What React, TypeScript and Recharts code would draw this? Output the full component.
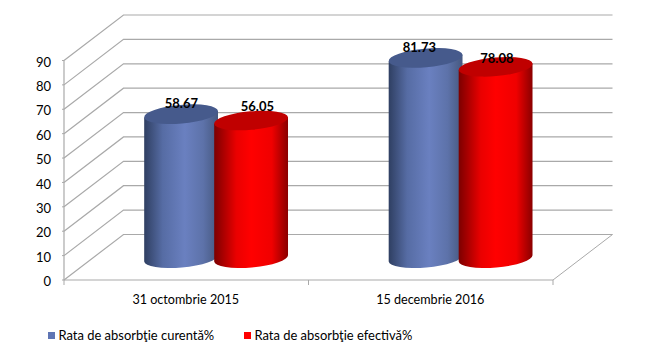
import React from 'react'
import { BarChart, Bar, XAxis, YAxis, CartesianGrid, Legend, LabelList } from 'recharts'

const categories = ['31 octombrie 2015', '15 decembrie 2016']
const curenta = [58.67, 81.73]
const efectiva = [56.05, 78.08]
const yTicks = [0, 10, 20, 30, 40, 50, 60, 70, 80, 90]
const seriesNames = ['Rata de absorbţie curentă%', 'Rata de absorbţie efectivă%']
const legendColors = ['#5f75b4', '#ff0000']

const data = categories.map((name, i) => ({ name, curenta: curenta[i], efectiva: efectiva[i] }))

const FONT = 'Lato, "Open Sans", sans-serif'
const GRID = '#a9a9a9'
// 3d box depth, the back wall sits this far from the front plane
const DEPTH_X = 59.5
const DEPTH_Y = 45.5
const BAND = 244.5
const TILT = 5
const RY = 9.3

// excel puts the data labels a bit off centre, by hand per series/category
const labelNudge = [
  [0, -11],
  [-6.5, -11],
]
const labelNudge2 = [
  [6, -14.5],
  [1, -9],
]

const Cylinder = (props: any) => {
  const { x, y, width, height, gradient, cap } = props
  const rx = width / 2 + 0.4
  const cx = x + width / 2 + DEPTH_X / 2 - 0.3
  const top = y - DEPTH_Y / 2
  const bottom = y + height - DEPTH_Y / 2 + 1
  const rad = (TILT * Math.PI) / 180
  const ex = rx * Math.cos(rad)
  const ey = rx * Math.sin(rad)
  const body = `M${cx - ex} ${top + ey} L${cx - ex} ${bottom + ey} A${rx} ${RY} ${-TILT} 0 0 ${cx + ex} ${bottom - ey} L${cx + ex} ${top - ey} Z`
  return (
    <g>
      <path d={body} fill={`url(#${gradient})`} />
      <ellipse cx={cx} cy={top} rx={rx} ry={RY} fill={cap} transform={`rotate(${-TILT} ${cx} ${top})`} />
    </g>
  )
}

const makeLabel = (nudge: number[][]) => (props: any) => {
  const { x, y, width, value, index } = props
  const [dx, dy] = nudge[index]
  return (
    <text
      x={x + width / 2 + DEPTH_X / 2 + dx}
      y={y - DEPTH_Y / 2 + dy}
      textAnchor="middle"
      dominantBaseline="central"
      fontFamily={FONT}
      fontSize={13}
      fontWeight={700}
      fill="#000"
    >
      {value.toFixed(2)}
    </text>
  )
}

// back wall gridline: diagonal on the side wall, then straight across
const gridLine = (props: any) => {
  const { x1, x2, y1 } = props
  const bx = x1 + DEPTH_X
  const by = y1 - DEPTH_Y
  const isFloor = Math.abs(y1 - 280) < 1
  return (
    <g key={props.key}>
      <polyline points={`${x1},${y1} ${bx},${by} ${x2 + DEPTH_X},${by}`} fill="none" stroke={GRID} strokeWidth={1.2} />
      {isFloor && <line x1={x2} y1={y1} x2={x2 + DEPTH_X} y2={by} stroke={GRID} strokeWidth={1} />}
    </g>
  )
}

const CategoryTick = (props: any) => {
  const { x, y, payload } = props
  return (
    <g>
      <line x1={x - BAND / 2} y1={y - 8} x2={x - BAND / 2} y2={y - 3} stroke={GRID} />
      <line x1={x + BAND / 2} y1={y - 8} x2={x + BAND / 2} y2={y - 3} stroke={GRID} />
      <text x={x - 0.5} y={y + 11.5} textAnchor="middle" dominantBaseline="central" fontFamily={FONT} fontSize={12.6} fill="#000">
        {payload.value}
      </text>
    </g>
  )
}

const ChartLegend = () => (
  <div style={{ position: 'relative', height: 48, fontFamily: FONT, fontSize: 12.95, color: '#000' }}>
    {seriesNames.map((name, i) => (
      <div key={name} style={{ position: 'absolute', left: i === 0 ? 47.5 : 243.5, top: 17, display: 'flex', alignItems: 'center', whiteSpace: 'nowrap', lineHeight: '16px' }}>
        <span style={{ width: 7, height: 7, background: legendColors[i], marginRight: 4, display: 'inline-block' }} />
        {name}
      </div>
    ))}
  </div>
)

export default function App() {
  return (
    <div style={{ position: 'absolute', left: 0, top: 0, background: '#fff' }}>
      <BarChart
        width={649}
        height={358}
        data={data}
        margin={{ top: 60.5, right: 96, bottom: 0, left: 24 }}
        barSize={73.3}
        barGap={-3.3}
      >
        <defs>
          <linearGradient id="blueBody" x1="0" y1="0" x2="1" y2="0">
            <stop offset="0%" stopColor="#2f3f62" />
            <stop offset="25%" stopColor="#566ca4" />
            <stop offset="55%" stopColor="#6a80c0" />
            <stop offset="80%" stopColor="#5d72a9" />
            <stop offset="100%" stopColor="#46587f" />
          </linearGradient>
          <linearGradient id="redBody" x1="0" y1="0" x2="1" y2="0">
            <stop offset="0%" stopColor="#7c0000" />
            <stop offset="30%" stopColor="#ea0000" />
            <stop offset="50%" stopColor="#ff0000" />
            <stop offset="78%" stopColor="#f00000" />
            <stop offset="100%" stopColor="#8a0000" />
          </linearGradient>
        </defs>
        <CartesianGrid vertical={false} horizontal={gridLine} />
        <XAxis
          dataKey="name"
          height={30}
          tickLine={false}
          axisLine={{ stroke: GRID, strokeWidth: 1.2 }}
          tick={<CategoryTick />}
          interval={0}
        />
        <YAxis
          width={40}
          domain={[0, 90]}
          ticks={yTicks}
          interval={0}
          tickSize={2}
          tickMargin={11}
          axisLine={{ stroke: GRID, strokeWidth: 1.2 }}
          tickLine={{ stroke: GRID }}
          tick={{ fontFamily: FONT, fontSize: 13, fill: '#000', dy: 1.5 }}
        />
        <Legend height={48} content={<ChartLegend />} wrapperStyle={{ left: 0, width: 649 }} />
        <Bar
          dataKey="curenta"
          name={seriesNames[0]}
          fill={legendColors[0]}
          isAnimationActive={false}
          shape={<Cylinder gradient="blueBody" cap="#465a8c" />}
        >
          <LabelList dataKey="curenta" content={makeLabel(labelNudge)} />
        </Bar>
        <Bar
          dataKey="efectiva"
          name={seriesNames[1]}
          fill={legendColors[1]}
          isAnimationActive={false}
          shape={<Cylinder gradient="redBody" cap="#c00000" />}
        >
          <LabelList dataKey="efectiva" content={makeLabel(labelNudge2)} />
        </Bar>
      </BarChart>
    </div>
  )
}
